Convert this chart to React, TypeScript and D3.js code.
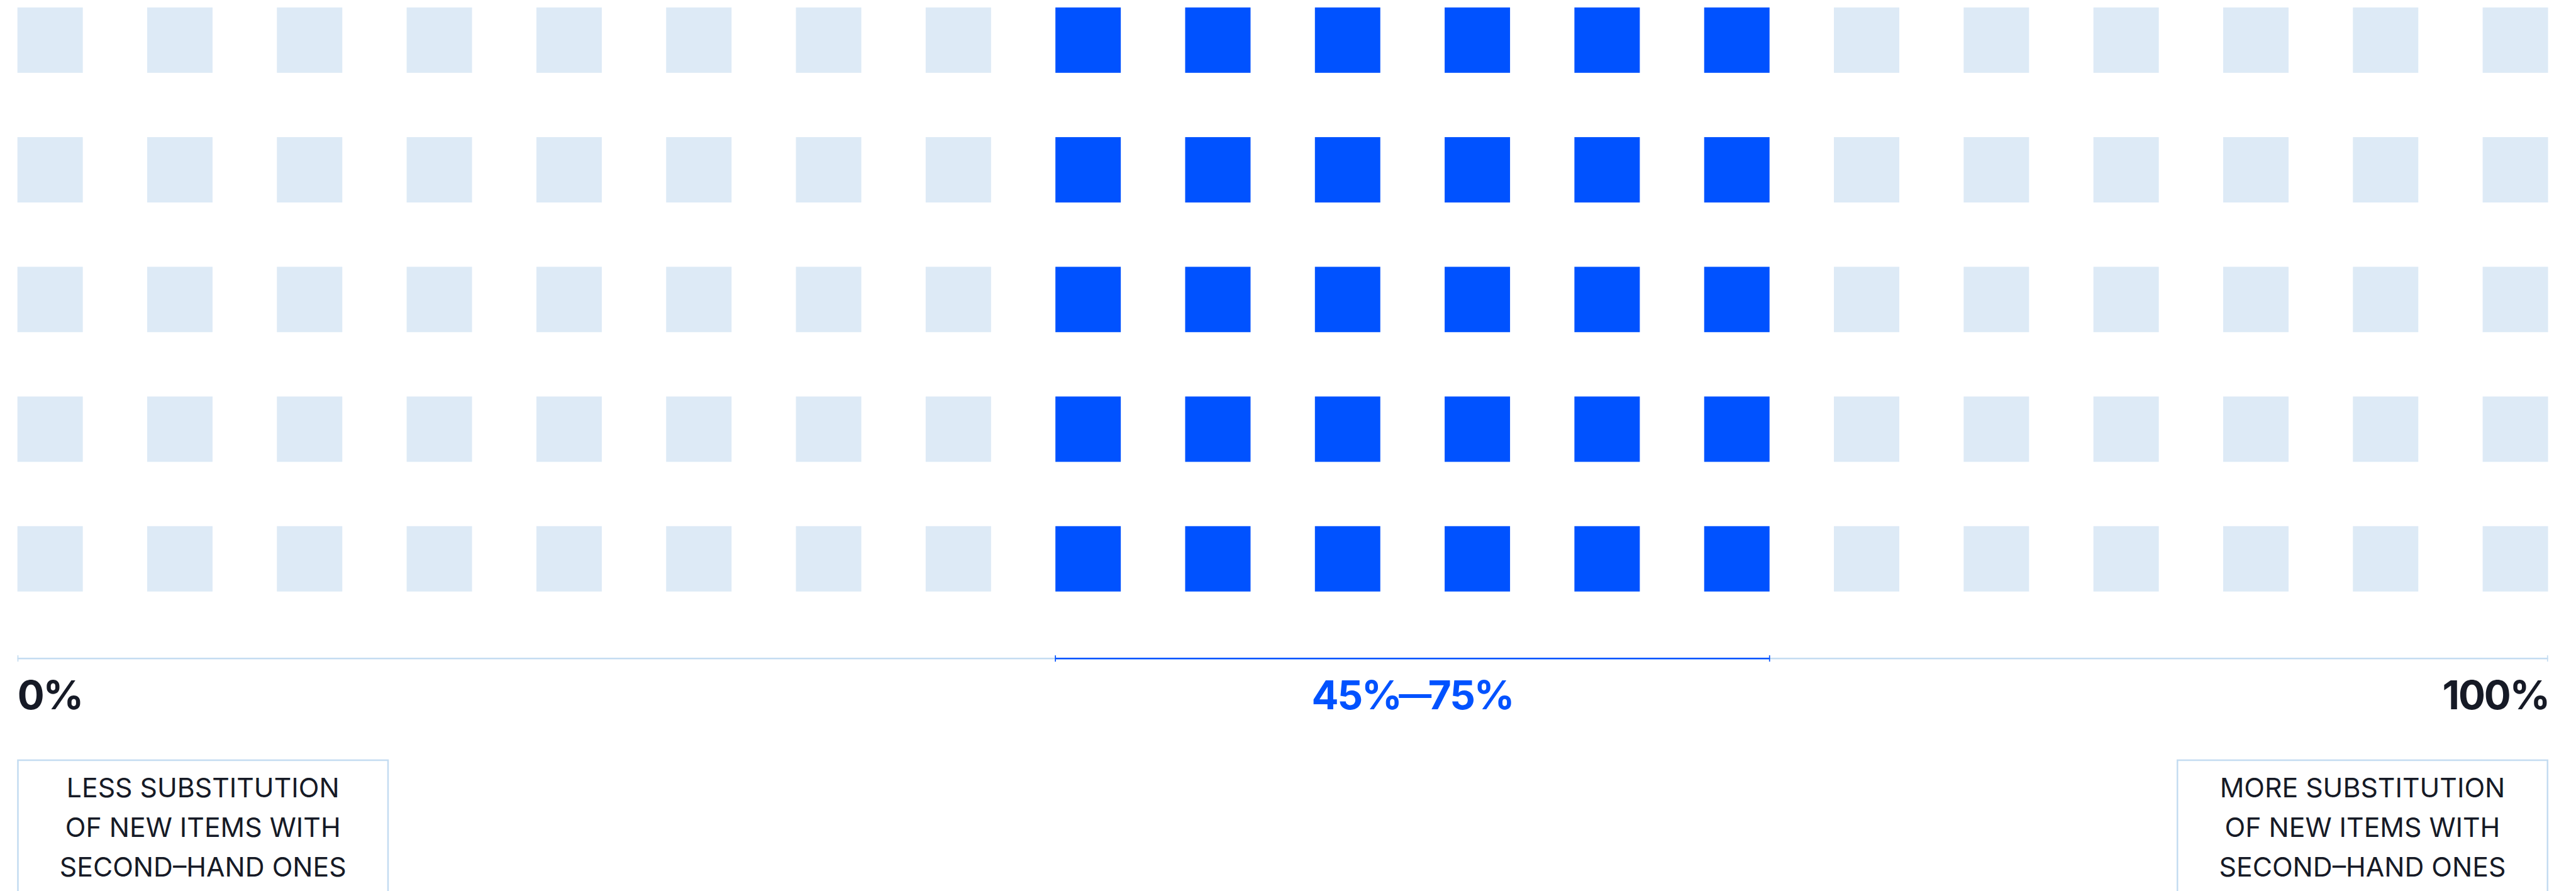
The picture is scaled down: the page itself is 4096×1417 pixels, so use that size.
import React from "react";
import * as d3 from "d3";

// ---- data ----
const columns: number[] = d3.range(20); // 20 steps from 0% to 100%
const rows: number[] = d3.range(5);
const highlightColumns: number[] = [8, 9, 10, 11, 12, 13];
const axisLabels: string[] = ["0%", "100%"];
const rangeLabelParts: string[] = ["45%", "—", "75%"];
const leftNote: string[] = ["LESS SUBSTITUTION", "OF NEW ITEMS WITH", "SECOND–HAND ONES"];
const rightNote: string[] = ["MORE SUBSTITUTION", "OF NEW ITEMS WITH", "SECOND–HAND ONES"];

// ---- styles ----
const W = 4886;
const H = 1690;
const LIGHT = "#ddeaf6";
const BLUE = "#0052ff";
const LINE = "#c4dcf1";
const DARK = "#161a26";
const FONT = "Inter, 'Noto Sans', sans-serif";

export default function App() {
  const x = d3.scaleBand<number>().domain(columns).range([33, 4833]).paddingInner(0.496).paddingOuter(0);
  const y = d3.scaleBand<number>().domain(rows).range([14, 1122]).paddingInner(0.496).paddingOuter(0);
  const hi = new Set(highlightColumns);
  const axisY = 1249;
  const x0 = x(columns[0])!;
  const x1 = x(columns[columns.length - 1])! + x.bandwidth();
  const hx0 = x(highlightColumns[0])!;
  const hx1 = x(highlightColumns[highlightColumns.length - 1])! + x.bandwidth();

  const boxTop = 1442;
  const leftBox = { x: 34, w: 702 };
  const rightBox = { x: 4130, w: 702 };

  const note = (lines: string[], cx: number) =>
    lines.map((t, i) => (
      <text key={i} x={cx} y={1513 + i * 75} textAnchor="middle" fontFamily={FONT} fontSize={51} fill={DARK}>
        {t}
      </text>
    ));

  return (
    <svg
      width={4096}
      height={1417}
      viewBox={`0 0 ${W} ${H}`}
      style={{ position: "absolute", left: 0, top: 0, background: "#fff" }}
    >
      <rect x={0} y={0} width={W} height={H} fill="#fff" />
      {rows.map((r) =>
        columns.map((c) => (
          <rect
            key={`${r}-${c}`}
            x={x(c)}
            y={y(r)}
            width={x.bandwidth()}
            height={y.bandwidth()}
            fill={hi.has(c) ? BLUE : LIGHT}
          />
        ))
      )}
      {/* axis */}
      <line x1={x0} x2={x1} y1={axisY} y2={axisY} stroke={LINE} strokeWidth={3} />
      <line x1={x0 + 1} x2={x0 + 1} y1={axisY - 6} y2={axisY + 6} stroke={LINE} strokeWidth={2} />
      <line x1={x1 - 1} x2={x1 - 1} y1={axisY - 6} y2={axisY + 6} stroke={LINE} strokeWidth={2} />
      <line x1={hx0} x2={hx1} y1={axisY} y2={axisY} stroke={BLUE} strokeWidth={3} />
      <line x1={hx0} x2={hx0} y1={axisY - 6} y2={axisY + 6} stroke={BLUE} strokeWidth={2} />
      <line x1={hx1} x2={hx1} y1={axisY - 6} y2={axisY + 6} stroke={BLUE} strokeWidth={2} />

      <text x={x0} y={1346} fontFamily={FONT} fontWeight={700} fontSize={76} letterSpacing={-2.5} fill={DARK}>
        {axisLabels[0]}
      </text>
      <text x={x1 + 2} y={1346} textAnchor="end" fontFamily={FONT} fontWeight={700} fontSize={76} letterSpacing={-2.5} fill={DARK}>
        {axisLabels[1]}
      </text>
      <text x={(hx0 + hx1) / 2} y={1346} textAnchor="middle" fontFamily={FONT} fontWeight={700} fontSize={76} letterSpacing={-2.5} fill={BLUE}>
        <tspan>{rangeLabelParts[0]}</tspan>
        <tspan dx={-4} dy={-6} fontSize={62}>{rangeLabelParts[1]}</tspan>
        <tspan dx={-4} dy={6}>{rangeLabelParts[2]}</tspan>
      </text>

      <rect x={leftBox.x} y={boxTop} width={leftBox.w} height={400} fill="none" stroke={LINE} strokeWidth={3} />
      <rect x={rightBox.x} y={boxTop} width={rightBox.w} height={400} fill="none" stroke={LINE} strokeWidth={3} />
      {note(leftNote, leftBox.x + leftBox.w / 2)}
      {note(rightNote, rightBox.x + rightBox.w / 2)}
    </svg>
  );
}
